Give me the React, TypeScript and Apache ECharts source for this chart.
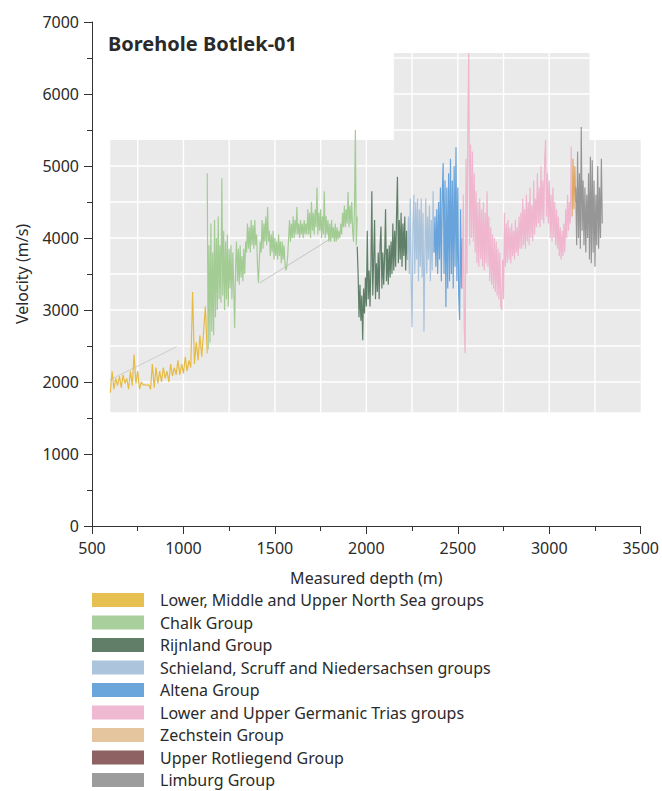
import React, { useEffect, useRef } from "react";
import * as echarts from "echarts";

// Legend / group names
const groupNames = [
  "Lower, Middle and Upper North Sea groups",
  "Chalk Group",
  "Rijnland Group",
  "Schieland, Scruff and Niedersachsen groups",
  "Altena Group",
  "Lower and Upper Germanic Trias groups",
  "Zechstein Group",
  "Upper Rotliegend Group",
  "Limburg Group",
];

// Sampling of each log: first measured depth (m) and sampling interval (m)
const groupStartDepth = [600, 1130, 1950, 2225, 2370, 2525, 3125, 3140, 3145];
const groupDepthStep = [10, 5, 5, 5, 5, 5, 5, 5, 5];

// Velocity values (m/s)
const northSeaVel = [
  1850, 2150, 1900, 2050, 1950, 2080, 1920, 2100, 1980, 2050, 1900, 2150, 1950, 2380, 1980, 2150,
  1900, 2000, 1960, 1960, 1955, 1960, 1900, 2250, 1920, 2200, 1980, 2150, 2000, 2200, 2050, 2150,
  2000, 2250, 2080, 2200, 2100, 2300, 2100, 2250, 2120, 2350, 2150, 2300, 2200, 3250, 2250, 2550,
  2300, 2650, 2350, 2700, 3050, 2400,
];
const chalkVel = [
  4900, 2450, 3900, 2550, 4200, 2700, 3800, 2650, 4250, 2900, 4000, 3000, 4300, 3150, 3900, 3100,
  4830, 3200, 4100, 3000, 3950, 3150, 4050, 3050, 3850, 3300, 3900, 3150, 3800, 3300, 2750, 3600,
  3950, 3400, 3850, 3350, 3900, 3450, 3750, 3400, 3850, 3500, 3950, 3800, 4200, 3850, 4150, 3800,
  4250, 3900, 4180, 3850, 4250, 3900, 4050, 3600, 3380, 3700, 3950, 3800, 4250, 3850, 4200, 3950,
  4300, 3900, 4430, 3950, 4100, 3750, 4050, 3800, 4100, 3700, 4000, 3750, 3950, 3700, 4050, 3750,
  3950, 3650, 3950, 3700, 3900, 3650, 3550, 3600, 3750, 4000, 4250, 3950, 4200, 4000, 4300, 4000,
  4250, 4050, 4430, 4050, 4200, 4000, 4250, 4050, 4200, 4000, 4250, 4050, 4200, 4050, 4400, 4050,
  4350, 4000, 4500, 4100, 4350, 4050, 4400, 4150, 4700, 4050, 4350, 4100, 4400, 4000, 4300, 4050,
  4650, 4000, 4300, 4050, 4250, 3950, 4200, 3950, 4250, 4000, 4150, 3950, 4200, 3950, 4150, 3980,
  4100, 4000, 4200, 4050, 4350, 4150, 4450, 4150, 4400, 4200, 4640, 4150, 4450, 4200, 4500, 4100,
  3950, 4400, 5500, 3900, 4300,
];
const rijnlandVel = [
  3880, 3500, 2900, 3350, 2850, 3200, 2580, 3300, 2950, 3450, 3050, 4100, 3150, 3550, 3050, 3600,
  4650, 3200, 3700, 4250, 3150, 3650, 3250, 3800, 3150, 3900, 4160, 3300, 3800, 3350, 3750, 4400,
  3400, 3850, 3350, 3900, 3450, 3950, 3500, 4200, 3550, 4100, 3600, 4300, 4850, 3650, 4250, 3700,
  4350, 3600, 4200, 3750, 4300, 3550, 4100, 3700,
];
const schielandVel = [
  3700, 4300, 3500, 4550, 3400, 2760, 4200, 4600, 3500, 4500, 3700, 4550, 3400, 4400, 3600, 4550,
  3450, 4350, 2700, 3800, 4550, 3500, 4300, 3700, 4450, 3400, 4250, 3550, 4650, 3800,
];
const altenaVel = [
  3800, 4300, 3600, 4400, 3500, 4500, 3700, 4700, 3400, 4600, 5040, 3500, 4800, 3040, 4700, 3300,
  4900, 3400, 5100, 3500, 4800, 3300, 5000, 3600, 5260, 3400, 4700, 3200, 2860, 4400, 3300, 4000,
];
const triasVel = [
  3300, 4600, 2800, 2400, 5100, 3500, 5600, 6570, 3900, 5300, 4000, 5200, 3950, 4900, 3800, 4650,
  3650, 4500, 3600, 4550, 3700, 4400, 3600, 4500, 3550, 4350, 3650, 4650, 3600, 4300, 3400, 4150,
  3350, 4050, 3300, 4000, 3250, 3950, 3200, 3850, 3150, 3800, 3050, 3000, 3700, 3150, 4350, 3600,
  4200, 3650, 4250, 3700, 4150, 3650, 4200, 3750, 4100, 3700, 4250, 3800, 4150, 3750, 4300, 3850,
  4350, 3850, 4550, 3900, 4400, 3850, 4600, 3950, 4500, 3900, 4700, 4000, 4450, 3950, 4800, 4050,
  4550, 4150, 4900, 4200, 4700, 4150, 5000, 4250, 4800, 4200, 5100, 5360, 4300, 4900, 4200, 4800,
  4000, 4600, 3950, 4700, 4000, 4500, 3900, 4400, 3850, 4300, 3750, 4150, 3700, 4100, 3750, 4200,
  3800, 4400, 4000, 4600, 4100, 4500, 4200, 5270, 4400,
];
const zechsteinVel = [4300, 5100, 4400, 5000, 4500];
const rotliegendVel: number[] = [];
const limburgVel = [
  4700, 3900, 5200, 4000, 4900, 3850, 5540, 4100, 4800, 3900, 4700, 3800, 4600, 4000, 4900, 3700,
  5130, 3650, 5080, 3800, 4800, 3600, 4600, 3900, 5000, 3850, 4700, 4000, 5100, 4200,
];
const groupVelocities = [
  northSeaVel, chalkVel, rijnlandVel, schielandVel, altenaVel, triasVel, zechsteinVel, rotliegendVel, limburgVel,
];

// Faint connecting lines in the plot [depth, velocity]
const faintLineA = [[598, 2030], [963, 2490]];
const faintLineB = [[1416, 3375], [1836, 4040]];

// Grey data-coverage panels: [depthFrom, velFrom, depthTo, velTo]
const panelRegions = [
  [600, 1580, 3500, 5360],
  [2150, 5360, 3220, 6570],
];

const lineColors = [
  "#e6bb45", "#a3cc95", "#5f7f68", "#a9c3dc", "#68a4db", "#efb6cd", "#e0a868", "#8f6464", "#969696",
];
const legendColors = [
  "#e6c152", "#a9d09c", "#617e69", "#acc5dc", "#6aa6dc", "#efbad1", "#e5c59e", "#8e6262", "#9c9c9c",
];

const FONT = "'Noto Sans', sans-serif";

export default function App() {
  const ref = useRef<HTMLDivElement>(null);
  useEffect(() => {
    if (!ref.current) return;
    const chart = echarts.init(ref.current, undefined, { renderer: "svg" });

    const dataSeries = groupNames.map((name, gi) => ({
      name,
      type: "line",
      data: groupVelocities[gi].map((v, i) => [groupStartDepth[gi] + i * groupDepthStep[gi], v]),
      showSymbol: false,
      symbol: "none",
      color: legendColors[gi],
      lineStyle: { color: lineColors[gi], width: 1.2 },
      z: 3,
    }));

    const option: any = {
      animation: false,
      backgroundColor: "#ffffff",
      title: {
        text: "Borehole Botlek-01",
        left: 108,
        top: 33,
        padding: 0,
        textStyle: { fontFamily: FONT, fontSize: 20, fontWeight: "bold", color: "#2a2a2a" },
      },
      grid: { left: 92, top: 22, width: 550, height: 504 },
      legend: {
        data: groupNames,
        orient: "vertical",
        left: 92,
        top: 592,
        height: 220,
        padding: 0,
        itemWidth: 52,
        itemHeight: 14,
        itemGap: 6.5,
        icon: "rect",
        selectedMode: false,
        textStyle: { fontFamily: FONT, fontSize: 16, color: "#2a2a2a", padding: [0, 0, 0, 11], lineHeight: 14 },
      },
      xAxis: {
        type: "value",
        min: 500,
        max: 3500,
        interval: 500,
        name: "Measured depth (m)",
        nameLocation: "middle",
        nameGap: 44,
        nameTextStyle: { fontFamily: FONT, fontSize: 16, color: "#2a2a2a" },
        axisLine: { show: true, lineStyle: { color: "#333", width: 1 } },
        axisTick: { show: true, length: 8, lineStyle: { color: "#333" } },
        minorTick: { show: true, splitNumber: 2, length: 5, lineStyle: { color: "#333" } },
        axisLabel: { fontFamily: FONT, fontSize: 16, color: "#2a2a2a", margin: 14, formatter: (v: number) => String(v) },
        splitLine: { show: false },
      },
      yAxis: {
        type: "value",
        min: 0,
        max: 7000,
        interval: 1000,
        name: "Velocity (m/s)",
        nameLocation: "middle",
        nameGap: 62,
        nameRotate: 90,
        nameTextStyle: { fontFamily: FONT, fontSize: 16, color: "#2a2a2a" },
        axisLine: { show: true, lineStyle: { color: "#333", width: 1 } },
        axisTick: { show: true, length: 8, lineStyle: { color: "#333" } },
        minorTick: { show: true, splitNumber: 2, length: 5, lineStyle: { color: "#333" } },
        axisLabel: { fontFamily: FONT, fontSize: 16, color: "#2a2a2a", margin: 13, formatter: (v: number) => String(v) },
        splitLine: { show: false },
      },
      series: [
        {
          type: "custom",
          name: "panels",
          z: 1,
          silent: true,
          encode: { x: [0, 2], y: [1, 3] },
          data: panelRegions,
          renderItem: (_params: any, api: any) => {
            const x1 = api.value(0), y1 = api.value(1), x2 = api.value(2), y2 = api.value(3);
            const p1 = api.coord([x1, y2]);
            const p2 = api.coord([x2, y1]);
            const children: any[] = [
              {
                type: "rect",
                shape: { x: p1[0], y: p1[1], width: p2[0] - p1[0], height: p2[1] - p1[1] },
                style: { fill: "#eaeaea" },
              },
            ];
            for (let gx = Math.ceil(x1 / 250) * 250; gx < x2; gx += 250) {
              if (gx <= x1) continue;
              const a = api.coord([gx, y1]);
              const b = api.coord([gx, y2]);
              children.push({
                type: "line",
                shape: { x1: a[0], y1: a[1], x2: b[0], y2: b[1] },
                style: { stroke: "#ffffff", lineWidth: 1.4 },
              });
            }
            for (let gy = Math.ceil(y1 / 500) * 500; gy < y2; gy += 500) {
              if (gy <= y1) continue;
              const a = api.coord([x1, gy]);
              const b = api.coord([x2, gy]);
              children.push({
                type: "line",
                shape: { x1: a[0], y1: a[1], x2: b[0], y2: b[1] },
                style: { stroke: "#ffffff", lineWidth: 1.4 },
              });
            }
            return { type: "group", children };
          },
        },
        {
          type: "line",
          name: "faintA",
          data: faintLineA,
          symbol: "none",
          lineStyle: { color: "#cccccc", width: 1 },
          z: 2,
          silent: true,
        },
        {
          type: "line",
          name: "faintB",
          data: faintLineB,
          symbol: "none",
          lineStyle: { color: "#c4c4c4", width: 1 },
          z: 2,
          silent: true,
        },
        ...dataSeries,
      ],
    };
    chart.setOption(option);
    return () => chart.dispose();
  }, []);

  return (
    <div
      ref={ref}
      style={{ position: "absolute", left: 0, top: 0, width: 662, height: 791, background: "#fff" }}
    />
  );
}
